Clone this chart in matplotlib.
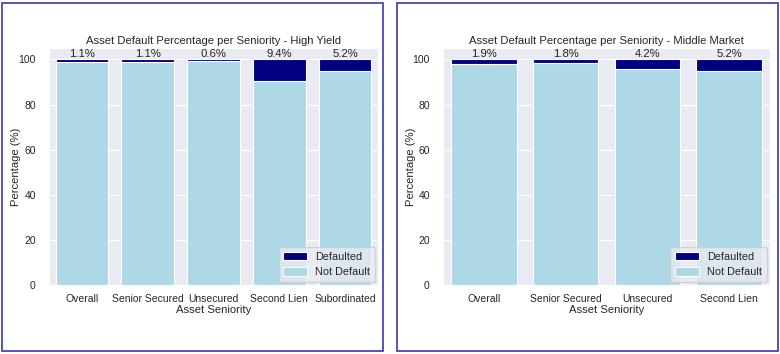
import matplotlib

matplotlib.use("Agg")
import matplotlib.pyplot as plt
import seaborn as sns
from matplotlib.patches import Rectangle

sns.set_style("darkgrid")
plt.rcParams["font.family"] = ["Liberation Sans", "DejaVu Sans"]

# default rates (%) per seniority
hy_cats = ["Overall", "Senior Secured", "Unsecured", "Second Lien", "Subordinated"]
hy_default = [1.1, 1.1, 0.6, 9.4, 5.2]

mm_cats = ["Overall", "Senior Secured", "Unsecured", "Second Lien"]
mm_default = [1.9, 1.8, 4.2, 5.2]

FS = 8.1
BORDER = "#4646b8"


def panel(ax, cats, defaults, title):
    not_def = [100 - d for d in defaults]
    ax.bar(cats, not_def, width=0.8, color="lightblue", edgecolor="white",
           linewidth=0.8, label="Not Default")
    ax.bar(cats, defaults, bottom=not_def, width=0.8, color="navy",
           edgecolor="white", linewidth=0.8, label="Defaulted")
    for i, d in enumerate(defaults):
        ax.text(i, 100, f"{d}%", ha="center", va="bottom", fontsize=FS, color="#222222")
    ax.set_ylim(0, 105)
    ax.set_xlim(-0.5, len(cats) - 0.5)
    ax.set_title(title, fontsize=FS, pad=3)
    ax.set_xlabel("Asset Seniority", fontsize=FS, labelpad=1)
    ax.set_ylabel("Percentage (%)", fontsize=FS)
    ax.yaxis.set_label_coords(-0.084, 0.5)
    ax.tick_params(axis="x", labelsize=7.5, pad=3)
    ax.tick_params(axis="y", labelsize=7.5, pad=6)
    h, l = ax.get_legend_handles_labels()
    ax.legend(h[::-1], l[::-1], loc="lower right", fontsize=7.8,
              borderaxespad=0.3, handlelength=2.2, handleheight=0.9)


fig = plt.figure(figsize=(7.8, 3.54), dpi=100)
ax1 = fig.add_axes([0.0628, 0.195, 0.4218, 0.669])
ax2 = fig.add_axes([0.568, 0.195, 0.419, 0.669])
panel(ax1, hy_cats, hy_default, "Asset Default Percentage per Seniority - High Yield")
panel(ax2, mm_cats, mm_default, "Asset Default Percentage per Seniority - Middle Market")

# screenshot-style frames around each panel
for x0, x1 in [(2, 383), (397, 778)]:
    fig.add_artist(Rectangle((x0 / 780, 3 / 354), (x1 - x0) / 780, 348 / 354,
                             transform=fig.transFigure, fill=False,
                             edgecolor=BORDER, linewidth=1.3))

fig.savefig("out.png", dpi=100)
